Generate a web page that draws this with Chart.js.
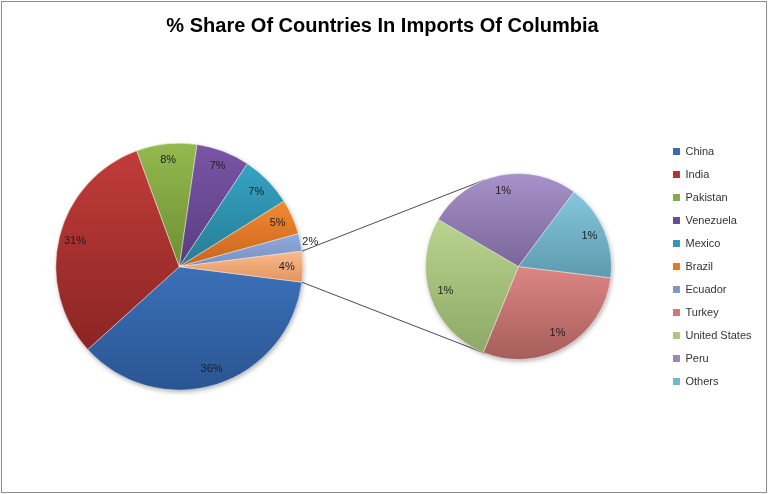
<!DOCTYPE html>
<html>
<head>
<meta charset="utf-8">
<script src="https://cdn.jsdelivr.net/npm/chart.js@4"></script>
<style>
  html, body { margin: 0; padding: 0; background: #ffffff; }
  #wrap { position: relative; width: 768px; height: 494px; overflow: hidden; background: #ffffff; }
  #frame { position: absolute; left: 1px; top: 1px; width: 764px; height: 490px; border: 1px solid #8c8c8c; }
  #title { position: absolute; left: 0; top: 13px; width: 765px; text-align: center;
           font: bold 20px "Liberation Sans", Arial, sans-serif; line-height: 24px; color: #000; }
  canvas { position: absolute; left: 0; top: 0; }
</style>
</head>
<body>
<div id="wrap">
  <div id="frame"></div>
  <canvas id="mainPie" width="768" height="494"></canvas>
  <canvas id="subPie" width="768" height="494"></canvas>
  <div id="title">% Share Of Countries In Imports Of Columbia</div>
</div>
<script>
// ---------------- data ----------------
const categories = ['China', 'India', 'Pakistan', 'Venezuela', 'Mexico', 'Brazil', 'Ecuador',
                    'Turkey', 'United States', 'Peru', 'Others'];
const shares = [36.3, 31.1, 7.9, 7.0, 6.8, 4.6, 2.3, 1.17, 1.09, 1.07, 0.67];
const secondPlotCount = 4;           // last N categories go to the secondary pie
const otherLabel = 'Other';

// ---------------- styles ----------------
const topColors = ['#3B70B8', '#C13C3A', '#93B94F', '#7A55A6', '#36A3C4', '#F38A31', '#90AADA',
                   '#DC8684', '#B9D48E', '#A792C9', '#84C7DC'];
const bottomColors = ['#2A5592', '#8A2523', '#6F8F32', '#5A3D80', '#267C94', '#C8641C', '#7590C4',
                      '#A75D5B', '#8EA965', '#7A6699', '#5E9AAE'];
const otherTop = '#FBB98D', otherBottom = '#E39460';
const legendColors = ['#3B6AAE', '#B03636', '#86AB45', '#6B4C92', '#3297B4', '#E07A2A', '#7E98CB',
                      '#D07877', '#ACC687', '#9887B8', '#72B7CD'];

const fontFamily = "'Liberation Sans', Arial, sans-serif";
Chart.defaults.font.family = fontFamily;

// ---------------- build tables ----------------
const nMain = categories.length - secondPlotCount;
const mainLabels = categories.slice(0, nMain).concat([otherLabel]);
const subLabels = categories.slice(nMain);
const subValues = shares.slice(nMain);
const mainValues = shares.slice(0, nMain).concat([subValues.reduce((a, b) => a + b, 0)]);
const grandTotal = mainValues.reduce((a, b) => a + b, 0);
const mainTop = topColors.slice(0, nMain).concat([otherTop]);
const mainBottom = bottomColors.slice(0, nMain).concat([otherBottom]);
const subTop = topColors.slice(nMain);
const subBottom = bottomColors.slice(nMain);

// the "Other" slice is centred on the right-hand side, as Excel does
const mainRotation = 90 + (mainValues[mainValues.length - 1] / grandTotal) * 180;
const subRotation = 97;

// vertical gradient over each slice's own bounding box
function sliceGradient(tops, bots, rotationDeg) {
  return function (ctx) {
    const i = ctx.dataIndex;
    const chart = ctx.chart;
    const area = chart.chartArea;
    if (ctx.type !== 'data' || !area) return tops[i];
    const meta = chart.getDatasetMeta(ctx.datasetIndex);
    const r = meta.controller && meta.controller.outerRadius;
    if (!r) return tops[i];
    const data = chart.data.datasets[ctx.datasetIndex].data;
    const total = data.reduce((a, b) => a + b, 0);
    let a0 = (rotationDeg - 90) * Math.PI / 180;
    for (let k = 0; k < i; k++) a0 += data[k] / total * 2 * Math.PI;
    const a1 = a0 + data[i] / total * 2 * Math.PI;
    let ymin = Math.min(0, r * Math.sin(a0), r * Math.sin(a1));
    let ymax = Math.max(0, r * Math.sin(a0), r * Math.sin(a1));
    for (let k = -2; k <= 3; k++) {
      const b = Math.PI / 2 + 2 * k * Math.PI;
      const t = -Math.PI / 2 + 2 * k * Math.PI;
      if (b >= a0 && b <= a1) ymax = r;
      if (t >= a0 && t <= a1) ymin = -r;
    }
    const cy = (area.top + area.bottom) / 2;
    const g = chart.ctx.createLinearGradient(0, cy + ymin, 0, cy + ymax + 0.01);
    g.addColorStop(0, tops[i]);
    g.addColorStop(1, bots[i]);
    return g;
  };
}

// soft drop shadow under each pie
const pieShadow = {
  id: 'pieShadow',
  beforeDatasetsDraw(chart) {
    const arc = chart.getDatasetMeta(0).data[0];
    if (!arc) return;
    const ctx = chart.ctx;
    ctx.save();
    ctx.shadowColor = 'rgba(0,0,0,0.35)';
    ctx.shadowBlur = 5;
    ctx.shadowOffsetX = 1;
    ctx.shadowOffsetY = 2;
    ctx.fillStyle = '#888';
    ctx.beginPath();
    ctx.arc(arc.x, arc.y, arc.outerRadius - 0.5, 0, Math.PI * 2);
    ctx.fill();
    ctx.restore();
  }
};

// percentage labels
const sliceLabels = {
  id: 'sliceLabels',
  afterDatasetsDraw(chart, args, opts) {
    const meta = chart.getDatasetMeta(0);
    const data = chart.data.datasets[0].data;
    const ctx = chart.ctx;
    ctx.save();
    ctx.font = '11px ' + fontFamily;
    ctx.fillStyle = '#1e1e1e';
    ctx.textBaseline = 'middle';
    meta.data.forEach((arc, i) => {
      const pct = data[i] / grandTotal * 100;
      const txt = Math.round(pct) + '%';
      const mid = (arc.startAngle + arc.endAngle) / 2;
      if (pct < opts.outsideBelow) {
        const d = arc.outerRadius + 2;
        ctx.textAlign = Math.cos(mid) >= 0 ? 'left' : 'right';
        ctx.fillText(txt, arc.x + d * Math.cos(mid), arc.y + d * Math.sin(mid));
      } else {
        const d = arc.outerRadius * opts.factor;
        ctx.textAlign = 'center';
        ctx.fillText(txt, arc.x + d * Math.cos(mid), arc.y + d * Math.sin(mid));
      }
    });
    ctx.restore();
  }
};

// ---------------- main pie ----------------
const mainChart = new Chart(document.getElementById('mainPie'), {
  type: 'pie',
  data: {
    labels: mainLabels,
    datasets: [{
      data: mainValues,
      backgroundColor: sliceGradient(mainTop, mainBottom, mainRotation),
      borderColor: 'rgba(255,255,255,0.45)',
      borderWidth: 1
    }]
  },
  options: {
    responsive: false,
    animation: false,
    events: [],
    rotation: mainRotation,
    radius: 123.5,
    layout: { padding: { left: 0, right: 409.4, top: 39.4, bottom: 0 } },
    plugins: {
      legend: { display: false },
      tooltip: { enabled: false },
      sliceLabels: { factor: 0.87, outsideBelow: 3 }
    }
  },
  plugins: [pieShadow, sliceLabels]
});

// connector lines: from the corners of the "Other" slice, tangent to the secondary pie
const connectors = {
  id: 'connectors',
  beforeDatasetsDraw(chart) {
    const mArcs = mainChart.getDatasetMeta(0).data;
    const other = mArcs[mArcs.length - 1];
    const sub = chart.getDatasetMeta(0).data[0];
    if (!other || !sub) return;
    const C = { x: sub.x, y: sub.y }, R = sub.outerRadius;
    const ctx = chart.ctx;
    ctx.save();
    ctx.strokeStyle = '#4a4a4a';
    ctx.lineWidth = 1;
    [[other.startAngle, -1], [other.endAngle, 1]].forEach(([ang, side]) => {
      const P = { x: other.x + other.outerRadius * Math.cos(ang), y: other.y + other.outerRadius * Math.sin(ang) };
      const dx = C.x - P.x, dy = C.y - P.y;
      const d = Math.hypot(dx, dy);
      const th = Math.atan2(dy, dx);
      const al = Math.asin(R / d);
      const L = Math.sqrt(d * d - R * R);
      const dir = th + side * al;
      ctx.beginPath();
      ctx.moveTo(P.x, P.y);
      ctx.lineTo(P.x + L * Math.cos(dir), P.y + L * Math.sin(dir));
      ctx.stroke();
    });
    ctx.restore();
  }
};

// ---------------- secondary pie + legend ----------------
const subChart = new Chart(document.getElementById('subPie'), {
  type: 'pie',
  data: {
    labels: subLabels,
    datasets: [{
      data: subValues,
      backgroundColor: sliceGradient(subTop, subBottom, subRotation),
      borderColor: 'rgba(255,255,255,0.45)',
      borderWidth: 1
    }]
  },
  options: {
    responsive: false,
    animation: false,
    events: [],
    rotation: subRotation,
    radius: 93,
    layout: { padding: { left: 376, right: 6.5, top: 39, bottom: 0 } },
    plugins: {
      tooltip: { enabled: false },
      legend: {
        position: 'right',
        align: 'center',
        onClick: null,
        labels: {
          boxWidth: 7,
          boxHeight: 7,
          padding: 12,
          color: '#333333',
          font: { size: 11, family: fontFamily },
          generateLabels: () => categories.map((c, i) => ({
            text: c, fillStyle: legendColors[i], strokeStyle: legendColors[i],
            lineWidth: 0, hidden: false, index: i, fontColor: '#333333'
          }))
        }
      },
      sliceLabels: { factor: 0.83, outsideBelow: 0 }
    }
  },
  plugins: [connectors, pieShadow, sliceLabels]
});
</script>
</body>
</html>
